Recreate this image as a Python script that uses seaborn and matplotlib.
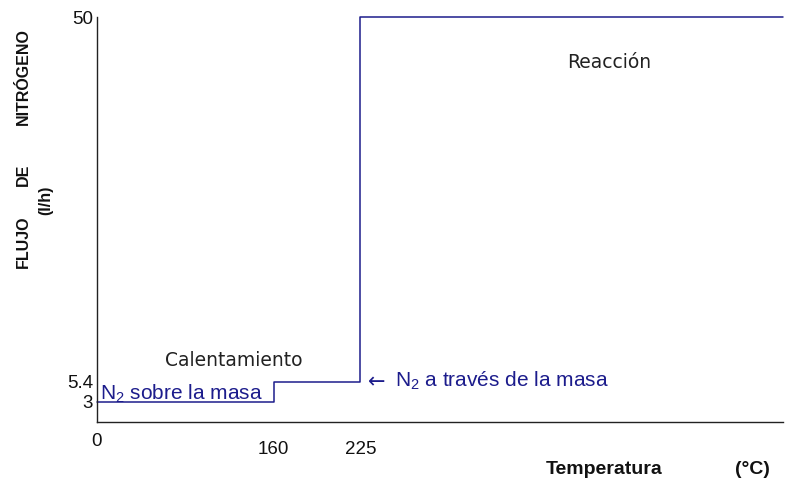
import matplotlib
matplotlib.use("Agg")
import matplotlib.pyplot as plt
import seaborn as sns
import pandas as pd
import numpy as np

# Data
temperature = [0, 160, 160, 225, 225, 600]
flow = [3, 3, 5.4, 5.4, 50, 50]
x_ticks = [160, 225]
x_tick_labels = ["160", "225"]
y_ticks = [3, 5.4, 50]
y_tick_labels = ["3", "5.4", "50"]

# schematic (non-uniform) temperature axis of the original drawing
x_breaks = [0, 160, 225, 600]
x_pos = [0, 177, 264, 688]

sns.set_theme(style="white")
plt.rcParams['font.family'] = ['Liberation Sans', 'DejaVu Sans']
plt.rcParams['mathtext.fontset'] = 'custom'
plt.rcParams['mathtext.rm'] = 'Liberation Sans'
plt.rcParams['mathtext.it'] = 'Liberation Sans'

navy = '#1c1c8c'
df = pd.DataFrame({"T": temperature, "F": flow})

fig = plt.figure(figsize=(7.85, 4.8), dpi=100)
ax = fig.add_axes([97/785, 1 - 422/480, 1 - 97/785 - 0.002, (422 - 17)/480])
fwd = lambda v: np.interp(v, x_breaks, x_pos)
inv = lambda v: np.interp(v, x_pos, x_breaks)
ax.set_xscale('function', functions=(fwd, inv))
sns.lineplot(data=df, x="T", y="F", ax=ax, color=navy, linewidth=1.1,
             sort=False, estimator=None, clip_on=False)

ax.set_xlim(0, 600)
ax.set_ylim(0.5, 50)
for s in ["top", "right"]:
    ax.spines[s].set_visible(False)
for s in ["left", "bottom"]:
    ax.spines[s].set_color('#222222')
    ax.spines[s].set_linewidth(1.0)

ax.set_xticks(x_ticks)
ax.set_xticklabels(x_tick_labels, fontsize=13.5, color='#111111')
ax.minorticks_off()
ax.set_yticks(y_ticks)
ax.set_yticklabels(y_tick_labels, fontsize=13.5, color='#111111')
ax.tick_params(axis='x', length=0, pad=14)
ax.tick_params(axis='y', length=0, pad=3)
ax.set_xlabel("")
ax.set_ylabel("")
ax.text(0, -0.047, "0", transform=ax.get_xaxis_transform(), ha='center', va='center',
        fontsize=13.5, color='#111111')

# Annotations
ax.text((610 - 97) / 688, (422 - 63) / 405, "Reacción", transform=ax.transAxes,
        fontsize=13.5, ha='center', va='center', family='DejaVu Sans', color='#222222')
ax.text((234 - 97) / 688, (422 - 360) / 405, "Calentamiento", transform=ax.transAxes,
        fontsize=13.5, ha='center', va='center', family='DejaVu Sans', color='#222222')
ax.text((100 - 97) / 688, (422 - 394) / 405, r"N$_2$ sobre la masa", transform=ax.transAxes,
        fontsize=15, ha='left', va='center', color=navy)
ax.text((369 - 97) / 688, (422 - 382) / 405, "←", transform=ax.transAxes,
        fontsize=15, ha='left', va='center', color=navy, family='DejaVu Sans')
ax.text((396 - 97) / 688, (422 - 381) / 405, r"N$_2$ a través de la masa",
        transform=ax.transAxes, fontsize=15, ha='left', va='center', color=navy)

# Axis titles
yl = dict(rotation=90, ha='center', va='center', fontsize=11.5, fontweight='bold',
          color='#111111')
fig.text(23.5/785, 1 - 242/480, "FLUJO", **yl)
fig.text(23.5/785, 1 - 175/480, "DE", **yl)
fig.text(23.5/785, 1 - 77/480, "NITRÓGENO", **yl)
fig.text(46/785, 1 - 200/480, "(l/h)", **yl)
fig.text(604/785, 1 - 469/480, "Temperatura", ha='center', va='center',
         fontsize=14, fontweight='bold', color='#111111')
fig.text(752/785, 1 - 469/480, "(°C)", ha='center', va='center',
         fontsize=14, fontweight='bold', color='#111111')

fig.savefig("out.png", dpi=100)
